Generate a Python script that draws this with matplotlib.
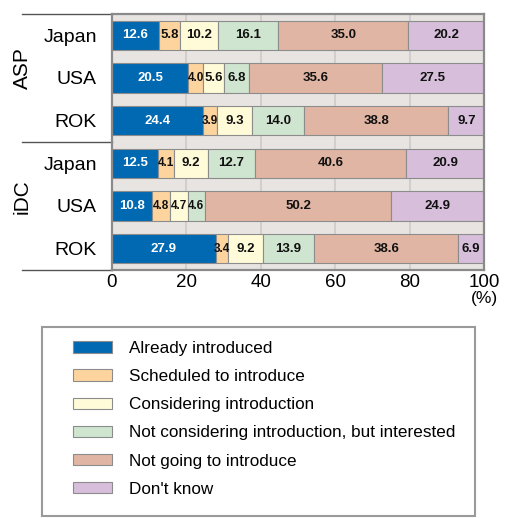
import matplotlib
matplotlib.use("Agg")
import matplotlib.pyplot as plt
import matplotlib.transforms as mtransforms
from matplotlib.patches import Rectangle
import numpy as np

plt.rcParams['font.family'] = ['Liberation Sans', 'DejaVu Sans']

groups = ["ASP", "iDC"]
countries = ["Japan", "USA", "ROK", "Japan", "USA", "ROK"]
categories = ["Already introduced", "Scheduled to introduce", "Considering introduction",
              "Not considering introduction, but interested", "Not going to introduce",
              "Don't know"]
colors = ["#0069b2", "#fdd49e", "#fffbd9", "#cfe5cf", "#e1b5a3", "#d7bedb"]

already = [12.6, 20.5, 24.4, 12.5, 10.8, 27.9]
scheduled = [5.8, 4.0, 3.9, 4.1, 4.8, 3.4]
considering = [10.2, 5.6, 9.3, 9.2, 4.7, 9.2]
interested = [16.1, 6.8, 14.0, 12.7, 4.6, 13.9]
not_going = [35.0, 35.6, 38.8, 40.6, 50.2, 38.6]
dont_know = [20.2, 27.5, 9.7, 20.9, 24.9, 6.9]
series = [already, scheduled, considering, interested, not_going, dont_know]
xticks = [0, 20, 40, 60, 80, 100]

fig = plt.figure(figsize=(5.10, 5.18), dpi=100)
ax = fig.add_axes([112 / 510, 1 - 270 / 518, 372 / 510, 256 / 518])
ax.set_facecolor("#e8e4e1")

y = np.arange(len(countries))
left = np.zeros(len(countries))
handles = []
for vals, col, name in zip(series, colors, categories):
    vals = np.array(vals)
    bars = ax.barh(y, vals, left=left, height=0.68, color=col, edgecolor="#8c8c8c",
                   linewidth=0.8, label=name, zorder=2)
    handles.append(bars)
    for yi, l, v in zip(y, left, vals):
        txtcol = "white" if col == colors[0] else "#111111"
        if v < 5:
            ax.text(l + v / 2, yi, f"{v:.1f}", ha="center", va="center", color=txtcol,
                    fontsize=8.5, fontweight="bold",
                    family=["Liberation Sans Narrow", "Liberation Sans"], zorder=3)
        else:
            ax.text(l + v / 2, yi, f"{v:.1f}", ha="center", va="center", color=txtcol,
                    fontsize=9.5, fontweight="bold", zorder=3)
    left += vals

ax.set_xlim(0, 100)
ax.set_ylim(len(countries) - 0.5, -0.5)
ax.set_xticks(xticks)
ax.set_xticklabels([str(t) for t in xticks], fontsize=13.5)
ax.set_yticks(y)
ax.set_yticklabels(countries, fontsize=14)
ax.tick_params(axis="both", length=0)
ax.tick_params(axis="y", pad=11)
ax.tick_params(axis="x", pad=3)
ax.xaxis.grid(True, color="#cfcdcb", linewidth=1.3, zorder=1)
ax.set_axisbelow(True)
for sp in ax.spines.values():
    sp.set_color("#8a8a8a")
    sp.set_linewidth(1.6)

ax.text(1.0, -0.11, "(%)", transform=ax.transAxes, ha="center", va="center", fontsize=12.5)

# group separators and labels on the left
trans = mtransforms.blended_transform_factory(ax.transAxes, ax.transData)
xl = (22 - 112) / 372
for yy in [-0.5, 2.5, 5.5]:
    ax.plot([xl, 0], [yy, yy], transform=trans, color="#555555", lw=1.0, clip_on=False)
for gi, g in enumerate(groups):
    ax.text((22 - 112) / 372, gi * 3 + 0.77, g, transform=trans, rotation=90,
            ha="center", va="center", fontsize=15)

# legend
frame = Rectangle((42 / 510, 1 - 516 / 518), (475 - 42) / 510, (516 - 327) / 518,
                  transform=fig.transFigure, facecolor="white", edgecolor="#9a9a9a",
                  linewidth=1.5)
fig.patches.append(frame)
fig.legend(handles, categories, loc="upper left",
           bbox_to_anchor=(73 / 510, 1 - 341 / 518), frameon=False, fontsize=12.3,
           handlelength=2.3, handleheight=0.65, handletextpad=0.95, labelspacing=0.77,
           borderpad=0, borderaxespad=0)

fig.savefig("out.png", dpi=100)
